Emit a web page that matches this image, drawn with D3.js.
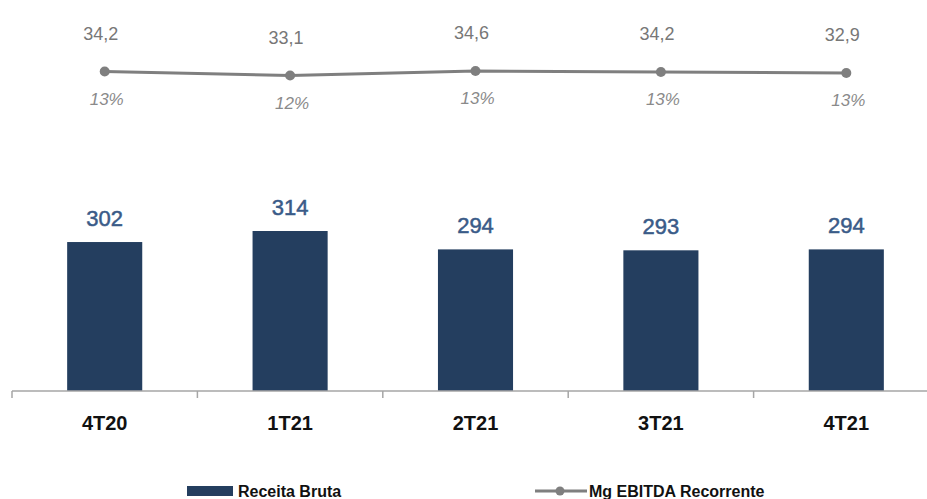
<!DOCTYPE html>
<html><head><meta charset="utf-8">
<script src="https://cdn.jsdelivr.net/npm/d3@7"></script>
<style>html,body{margin:0;padding:0;background:#fff;}svg{display:block;}</style>
</head><body>
<svg id="c" width="927" height="499"></svg>
<script>
const categories = ["4T20", "1T21", "2T21", "3T21", "4T21"];
const receitaBruta = [302, 314, 294, 293, 294];
const ebitdaRecorrente = [34.2, 33.1, 34.6, 34.2, 32.9];
const mgEbitda = [13.1, 12.3, 13.2, 13.0, 12.8];
const mgLabels = ["13%", "12%", "13%", "13%", "13%"];
const seriesNames = ["Receita Bruta", "Mg EBITDA Recorrente"];

const W = 927, H = 499;
const svg = d3.select("#c");
const barColor = "#243e5f", lineColor = "#7f7f7f";

const x = d3.scaleBand().domain(categories).range([12, 939]).paddingInner(0.595).paddingOuter(0.2975);
const yBar = d3.scaleLinear().domain([140, 314]).range([391, 231]);
const yLine = d3.scaleLinear().domain([12, 14]).range([77, 67]);
const cx = c => x(c) + x.bandwidth() / 2;

// bars
svg.append("g").selectAll("rect").data(categories).join("rect")
  .attr("x", c => x(c)).attr("width", x.bandwidth())
  .attr("y", (c, i) => yBar(receitaBruta[i]))
  .attr("height", (c, i) => yBar.range()[0] - yBar(receitaBruta[i]))
  .attr("fill", barColor);

svg.append("g").selectAll("text").data(categories).join("text")
  .attr("x", cx).attr("y", (c, i) => yBar(receitaBruta[i]) - 16)
  .attr("text-anchor", "middle")
  .attr("font-family", "Liberation Sans, Arial, sans-serif").attr("font-size", 22)
  .attr("fill", "#3a5b88").attr("stroke", "#3a5b88").attr("stroke-width", 0.5)
  .text((c, i) => receitaBruta[i]);

// axis
const axisG = svg.append("g").attr("transform", "translate(0,391)");
axisG.append("line").attr("x1", 12).attr("x2", W).attr("y1", 0).attr("y2", 0)
  .attr("stroke", "#a6a6a6").attr("stroke-width", 1.5);
axisG.selectAll("line.tk").data(categories).join("line").attr("class", "tk")
  .attr("x1", c => x(c) - x.step() * x.paddingInner() / 2).attr("x2", c => x(c) - x.step() * x.paddingInner() / 2)
  .attr("y1", 0).attr("y2", 7).attr("stroke", "#a6a6a6").attr("stroke-width", 1.5);
axisG.selectAll("text").data(categories).join("text")
  .attr("x", cx).attr("y", 39).attr("text-anchor", "middle")
  .attr("font-family", "Liberation Sans, Arial, sans-serif").attr("font-weight", "bold")
  .attr("font-size", 20).attr("fill", "#111").text(c => c);

// line
const line = d3.line().x((d, i) => cx(categories[i])).y(d => yLine(d));
svg.append("path").datum(mgEbitda).attr("d", line)
  .attr("fill", "none").attr("stroke", lineColor).attr("stroke-width", 3);
svg.append("g").selectAll("circle").data(mgEbitda).join("circle")
  .attr("cx", (d, i) => cx(categories[i])).attr("cy", d => yLine(d)).attr("r", 5)
  .attr("fill", lineColor);

svg.append("g").selectAll("text").data(ebitdaRecorrente).join("text")
  .attr("x", (d, i) => cx(categories[i]) - 4).attr("y", (d, i) => yLine(mgEbitda[i]) - 32)
  .attr("text-anchor", "middle")
  .attr("font-family", "Liberation Sans, Arial, sans-serif").attr("font-size", 18)
  .attr("fill", "#777").text(d => d.toFixed(1).replace(".", ","));

svg.append("g").selectAll("text").data(mgLabels).join("text")
  .attr("x", (d, i) => cx(categories[i]) + 2).attr("y", (d, i) => yLine(mgEbitda[i]) + 33)
  .attr("text-anchor", "middle")
  .attr("font-family", "Liberation Sans, Arial, sans-serif").attr("font-style", "italic")
  .attr("font-size", 17).attr("fill", "#8a8a8a").text(d => d);

// legend
const lg = svg.append("g").attr("font-family", "Liberation Sans, Arial, sans-serif")
  .attr("font-weight", "bold").attr("font-size", 16).attr("fill", "#111");
lg.append("rect").attr("x", 187).attr("y", 486).attr("width", 46).attr("height", 10).attr("fill", barColor);
lg.append("text").attr("x", 238).attr("y", 497).text(seriesNames[0]);
lg.append("line").attr("x1", 535).attr("x2", 587).attr("y1", 491).attr("y2", 491)
  .attr("stroke", lineColor).attr("stroke-width", 3);
lg.append("circle").attr("cx", 560).attr("cy", 491).attr("r", 4.5).attr("fill", lineColor);
lg.append("text").attr("x", 589).attr("y", 497).text(seriesNames[1]);
</script>
</body></html>
